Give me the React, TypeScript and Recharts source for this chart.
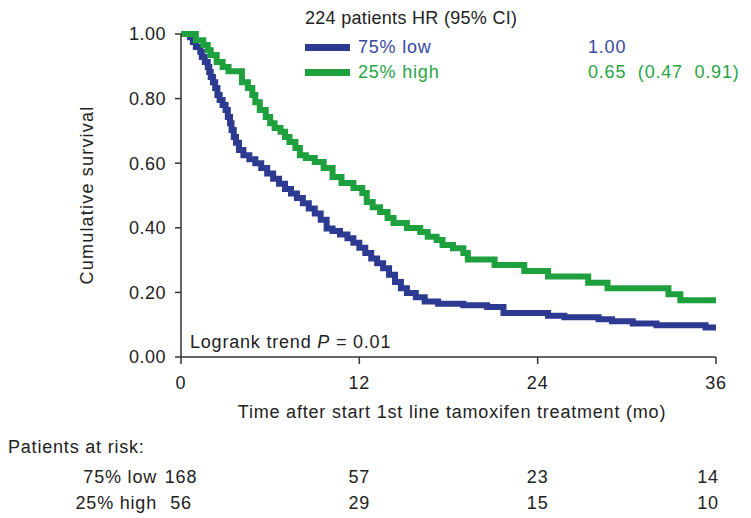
import { LineChart, Line, XAxis, YAxis } from 'recharts';

const FONT = '"Liberation Sans", Arial, sans-serif';
const BLUE = '#2c3a92';
const GREEN = '#1fa03e';
const BLUE_TEXT = '#3a48a3';
const GREEN_TEXT = '#27a545';
const INK = '#222';

// Kaplan-Meier estimates (months, survival)
const lowTimes = [0, 0.6, 0.8, 1.0, 1.3, 1.4, 1.6, 1.8, 1.9, 2.0, 2.15, 2.3, 2.45, 2.6, 2.8, 3.0, 3.15, 3.3, 3.4, 3.55, 3.7, 3.9, 4.2, 4.6, 5.0, 5.4, 5.8, 6.2, 6.6, 7.0, 7.4, 7.8, 8.2, 8.6, 9.0, 9.4, 9.8, 10.2, 10.7, 11.2, 11.6, 12.0, 12.4, 12.8, 13.2, 13.6, 14.0, 14.4, 14.8, 15.2, 15.8, 16.4, 17.3, 19.0, 20.6, 21.7, 24.7, 25.8, 28.1, 29.0, 30.4, 32.0, 35.3, 36];
const lowSurvival = [1.0, 0.99, 0.975, 0.96, 0.944, 0.929, 0.913, 0.898, 0.882, 0.867, 0.851, 0.833, 0.811, 0.796, 0.78, 0.765, 0.743, 0.724, 0.703, 0.681, 0.663, 0.641, 0.625, 0.612, 0.6, 0.585, 0.568, 0.552, 0.536, 0.52, 0.506, 0.492, 0.476, 0.46, 0.444, 0.425, 0.398, 0.39, 0.379, 0.368, 0.354, 0.338, 0.322, 0.305, 0.29, 0.275, 0.255, 0.232, 0.213, 0.198, 0.185, 0.172, 0.165, 0.16, 0.155, 0.136, 0.128, 0.123, 0.117, 0.111, 0.104, 0.098, 0.091, 0.091];

const highTimes = [0, 1.0, 1.5, 1.8, 2.0, 2.4, 2.8, 3.2, 4.1, 4.5, 4.8, 5.0, 5.3, 5.7, 6.0, 6.3, 6.7, 7.0, 7.3, 7.7, 8.0, 8.4, 9.0, 9.6, 10.2, 10.8, 11.6, 12.2, 12.5, 12.9, 13.4, 13.9, 14.3, 15.2, 16.1, 16.6, 17.2, 17.6, 18.3, 19.0, 19.3, 21.1, 23.1, 24.7, 27.4, 28.7, 32.8, 33.6, 36];
const highSurvival = [1.0, 0.981, 0.966, 0.95, 0.935, 0.913, 0.898, 0.885, 0.851, 0.833, 0.811, 0.789, 0.765, 0.743, 0.724, 0.709, 0.697, 0.681, 0.666, 0.647, 0.625, 0.616, 0.604, 0.585, 0.557, 0.539, 0.523, 0.508, 0.48, 0.464, 0.449, 0.43, 0.415, 0.399, 0.387, 0.372, 0.362, 0.347, 0.337, 0.322, 0.302, 0.285, 0.266, 0.249, 0.23, 0.213, 0.194, 0.176, 0.176];

const xTicks = [0, 12, 24, 36];
const yTicks = [0, 0.2, 0.4, 0.6, 0.8, 1];
const groups = ['75% low', '25% high'];
const hazardRatios = ['1.00', '0.65\u00a0\u00a0(0.47\u00a0\u00a00.91)'];
const atRiskLow = [168, 57, 23, 14];
const atRiskHigh = [56, 29, 15, 10];

const toPoints = (times: number[], surv: number[]) => times.map((t, i) => ({ t, s: surv[i] }));
const lowData = toPoints(lowTimes, lowSurvival);
const highData = toPoints(highTimes, highSurvival);

const SPACING = 0.8;

// x tick plus the at-risk numbers that sit under it
function TimeTick(props: any) {
  const { x, y, payload } = props;
  const i = xTicks.indexOf(payload.value);
  const nx = i === 3 ? x - 8 : x;
  const style = { fontFamily: FONT, fontSize: 18, fill: INK, letterSpacing: SPACING };
  return (
    <g>
      <text x={x} y={y + 10} dy="0.71em" textAnchor="middle" {...style}>{payload.value}</text>
      <text x={nx} y={y + 104} dy="0.71em" textAnchor="middle" {...style}>{atRiskLow[i]}</text>
      <text x={nx} y={y + 130} dy="0.71em" textAnchor="middle" {...style}>{atRiskHigh[i]}</text>
    </g>
  );
}

const abs = (left: number, top: number, extra: any = {}) => ({
  position: 'absolute' as const, left, top, fontSize: 18, lineHeight: '20px', letterSpacing: SPACING,
  whiteSpace: 'nowrap' as const, ...extra,
});

export default function App() {
  const colors = [BLUE, GREEN];
  const textColors = [BLUE_TEXT, GREEN_TEXT];
  return (
    <div style={{ position: 'absolute', left: 0, top: 0, width: 751, height: 518, background: '#fff', fontFamily: FONT, color: INK }}>
      <LineChart width={751} height={518} margin={{ top: 34, right: 35, bottom: 131, left: 121 }}>
        <XAxis
          type="number"
          dataKey="t"
          domain={[0, 36]}
          ticks={xTicks}
          height={30}
          tickSize={7}
          stroke="#333"
          strokeWidth={1.5}
          tick={<TimeTick />}
          allowDataOverflow
        />
        <YAxis
          type="number"
          dataKey="s"
          domain={[0, 1]}
          ticks={yTicks}
          width={60}
          tickSize={6}
          tickMargin={9}
          stroke="#333"
          strokeWidth={1.5}
          tickFormatter={(v: number) => v.toFixed(2)}
          tick={{ fontFamily: FONT, fontSize: 18, fill: INK, letterSpacing: 0.5 }}
        />
        <Line data={lowData} dataKey="s" type="stepAfter" stroke={BLUE} strokeWidth={6} dot={false} isAnimationActive={false} />
        <Line data={highData} dataKey="s" type="stepAfter" stroke={GREEN} strokeWidth={6} dot={false} isAnimationActive={false} />
      </LineChart>

      <div style={abs(305, 8, { letterSpacing: 0.3 })}>224 patients HR (95% CI)</div>
      {groups.map((g, i) => (
        <div key={g}>
          <div style={{ position: 'absolute', left: 305, top: 44 + i * 25, width: 45, height: 7, background: colors[i] }} />
          <div style={abs(358, 37 + i * 25, { color: textColors[i] })}>{g}</div>
          <div style={abs(588, 37 + i * 25, { color: textColors[i] })}>{hazardRatios[i]}</div>
        </div>
      ))}

      <div style={abs(190, 332)}>Logrank trend <i>P</i> = 0.01</div>

      <div style={abs(87, 195, { transform: 'translate(-50%, -50%) rotate(-90deg)', letterSpacing: 1.2 })}>Cumulative survival</div>
      <div style={abs(452, 402, { transform: 'translateX(-50%)' })}>Time after start 1st line tamoxifen treatment (mo)</div>

      <div style={abs(8, 437)}>Patients at risk:</div>
      {groups.map((g, i) => (
        <div key={g} style={abs(0, 467 + i * 26, { width: 157, textAlign: 'right' })}>{g}</div>
      ))}
    </div>
  );
}
